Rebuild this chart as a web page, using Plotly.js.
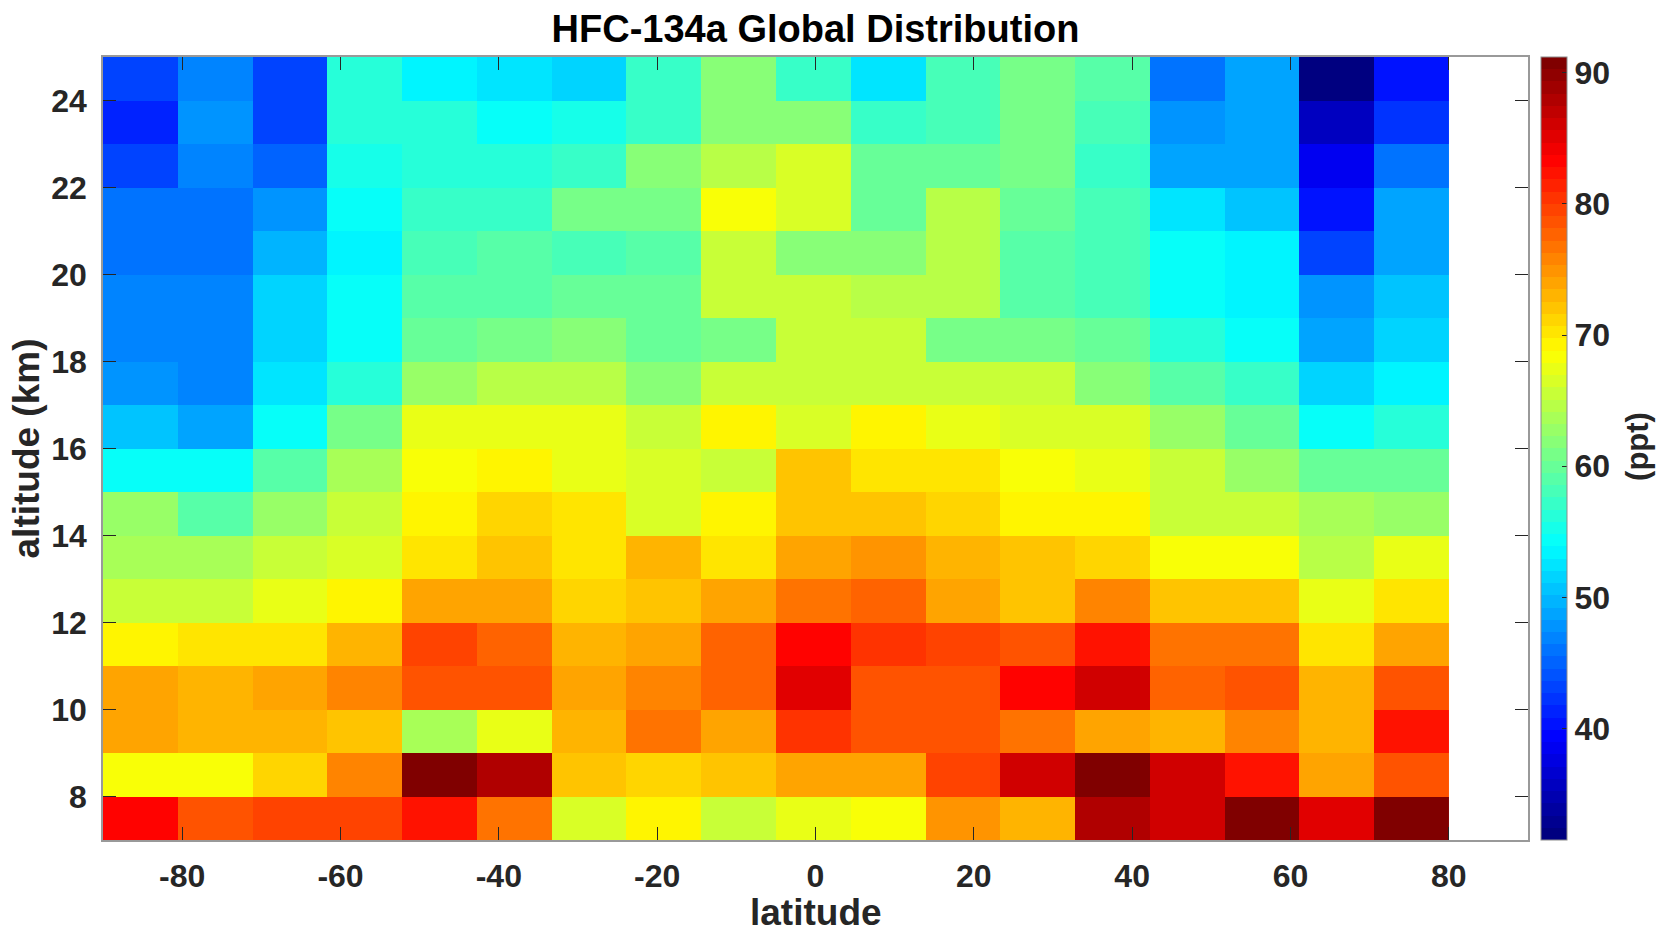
<!DOCTYPE html>
<html>
<head>
<meta charset="utf-8">
<script src="https://cdn.plot.ly/plotly-3.0.1.min.js"></script>
<style>
  html, body { margin: 0; padding: 0; background: #ffffff; }
  #chart { width: 1657px; height: 934px; }
</style>
</head>
<body>
<div id="chart"></div>
<script>
// Latitude bin centres (deg) and altitude bin centres (km)
const latitude = [-85.28, -75.83, -66.39, -56.94, -47.5, -38.06, -28.61, -19.17, -9.72,
                  -0.28, 9.17, 18.61, 28.06, 37.5, 46.94, 56.39, 65.83, 75.28];
const altitude = [7.5, 8.5, 9.5, 10.5, 11.5, 12.5, 13.5, 14.5, 15.5,
                  16.5, 17.5, 18.5, 19.5, 20.5, 21.5, 22.5, 23.5, 24.5];

// HFC-134a mixing ratio (ppt), one row per altitude (bottom to top)
const ppt_7_5  = [83.7, 79.0, 80.0, 80.0, 82.8, 77.1, 66.3, 69.1, 65.3, 67.0, 67.9, 74.6, 73.4, 88.4, 86.4, 91.0, 84.7, 91.0];
const ppt_8_5  = [67.9, 67.9, 70.9, 75.5, 91.0, 88.4, 71.8, 71.1, 71.8, 74.3, 74.3, 80.0, 85.8, 91.0, 86.4, 81.9, 73.7, 79.0];
const ppt_9_5  = [74.3, 73.0, 73.0, 71.8, 63.3, 67.0, 73.0, 76.4, 74.3, 80.9, 79.0, 79.0, 76.4, 73.7, 72.8, 75.5, 72.8, 81.9];
const ppt_10_5 = [73.7, 72.8, 73.7, 75.5, 79.0, 79.0, 73.7, 75.5, 78.1, 84.7, 79.0, 79.0, 83.7, 86.4, 78.1, 79.0, 72.8, 78.8];
const ppt_11_5 = [69.1, 69.9, 70.6, 72.8, 80.0, 78.1, 72.8, 74.3, 78.1, 83.7, 80.9, 80.0, 79.0, 81.9, 77.1, 77.1, 70.6, 73.7];
const ppt_12_5 = [65.3, 65.3, 67.0, 69.1, 73.7, 74.3, 70.9, 72.5, 73.7, 76.4, 78.1, 74.3, 72.5, 75.5, 72.0, 72.0, 67.0, 70.2];
const ppt_13_5 = [63.6, 63.3, 65.3, 66.8, 70.4, 71.8, 70.4, 73.0, 70.6, 73.7, 74.6, 73.0, 71.8, 70.9, 67.9, 67.9, 64.7, 67.0];
const ppt_14_5 = [62.3, 58.6, 62.3, 65.1, 69.1, 70.9, 70.2, 66.3, 69.1, 72.5, 71.8, 71.3, 69.1, 69.1, 65.9, 65.1, 63.3, 62.3];
const ppt_15_5 = [54.8, 53.9, 58.6, 63.3, 67.9, 69.1, 67.6, 66.3, 65.1, 72.2, 70.5, 70.6, 67.9, 67.0, 65.1, 62.3, 59.5, 59.5];
const ppt_16_5 = [50.2, 48.9, 54.8, 60.5, 67.0, 67.0, 67.0, 65.1, 69.1, 66.6, 69.1, 67.6, 66.6, 66.6, 62.8, 60.3, 54.8, 55.8];
const ppt_17_5 = [47.9, 46.9, 52.1, 55.8, 62.8, 64.4, 65.0, 62.1, 65.6, 65.6, 65.6, 65.6, 65.6, 62.1, 59.0, 56.7, 51.4, 53.2];
const ppt_18_5 = [46.9, 46.9, 51.1, 53.9, 60.3, 61.3, 61.8, 60.3, 61.3, 65.6, 65.6, 60.9, 61.3, 60.0, 55.8, 53.9, 48.9, 51.4];
const ppt_19_5 = [46.9, 46.9, 51.4, 53.9, 59.0, 59.0, 59.5, 60.0, 65.6, 65.6, 64.6, 64.4, 59.0, 58.1, 54.8, 53.2, 47.5, 50.2];
const ppt_20_5 = [45.5, 46.0, 50.0, 53.6, 58.4, 59.0, 58.1, 59.3, 65.6, 61.6, 62.0, 64.7, 59.0, 58.1, 53.9, 53.2, 43.2, 48.9];
const ppt_21_5 = [45.5, 46.4, 48.1, 54.8, 57.0, 57.0, 60.5, 61.3, 67.9, 66.8, 59.9, 64.4, 59.9, 58.1, 52.1, 50.9, 40.8, 48.9];
const ppt_22_5 = [43.5, 47.2, 44.8, 55.6, 55.8, 55.8, 57.5, 61.6, 64.4, 66.6, 59.9, 60.3, 61.0, 57.2, 49.2, 48.9, 38.1, 46.0];
const ppt_23_5 = [41.4, 48.1, 42.7, 55.8, 55.8, 54.8, 55.3, 57.5, 61.6, 61.8, 57.2, 57.7, 60.5, 58.1, 47.9, 48.9, 35.7, 41.8];
const ppt_24_5 = [43.5, 47.2, 43.0, 56.4, 53.5, 52.9, 51.4, 57.5, 62.1, 57.6, 52.9, 58.4, 60.5, 59.1, 46.4, 48.9, 32.0, 39.9];

const xTicks = [-80, -60, -40, -20, 0, 20, 40, 60, 80];
const yTicks = [8, 10, 12, 14, 16, 18, 20, 22, 24];
const cbTicks = [40, 50, 60, 70, 80, 90];

const zRows = [ppt_7_5, ppt_8_5, ppt_9_5, ppt_10_5, ppt_11_5, ppt_12_5, ppt_13_5, ppt_14_5, ppt_15_5,
               ppt_16_5, ppt_17_5, ppt_18_5, ppt_19_5, ppt_20_5, ppt_21_5, ppt_22_5, ppt_23_5, ppt_24_5];

// MATLAB-style jet(64) stepped colour scale
function jet64() {
  const n = 64, scale = [];
  const cl = v => Math.max(0, Math.min(1, v));
  for (let i = 0; i < n; i++) {
    const x = i / (n - 1);
    const r = cl(1.5 - Math.abs(4 * x - 3));
    const g = cl(1.5 - Math.abs(4 * x - 2));
    const b = cl(1.5 - Math.abs(4 * x - 1));
    const c = `rgb(${Math.round(r * 255)},${Math.round(g * 255)},${Math.round(b * 255)})`;
    scale.push([i / n, c]);
    scale.push([(i + 1) / n, c]);
  }
  return scale;
}

const font = 'Liberation Sans, Arial, sans-serif';
const tickCol = '#262626';

const trace = {
  type: 'heatmap',
  x: latitude,
  y: altitude,
  z: zRows,
  zmin: 31.5,
  zmax: 91.2,
  colorscale: jet64(),
  hoverongaps: false,
  colorbar: {
    x: 1.0091, xanchor: 'left', xpad: 0,
    y: 0.5, yanchor: 'middle', ypad: 0,
    len: 1, lenmode: 'fraction',
    thickness: 26, thicknessmode: 'pixels',
    outlinecolor: '#8c8c8c', outlinewidth: 1,
    tickvals: cbTicks, ticktext: cbTicks.map(String),
    ticks: 'inside', ticklen: 5, tickcolor: tickCol,
    ticklabelstandoff: 4,
    tickfont: { family: font, size: 32, color: tickCol, weight: 'bold' }
  }
};

const layout = {
  width: 1657, height: 934,
  paper_bgcolor: '#ffffff', plot_bgcolor: '#ffffff',
  margin: { l: 103, r: 129, t: 57, b: 94 },
  title: {
    text: 'HFC-134a Global Distribution',
    x: 0.5, xref: 'paper', xanchor: 'center',
    y: 1 - 28.5 / 934, yref: 'container', yanchor: 'middle',
    font: { family: font, size: 38, color: '#000000', weight: 'bold' }
  },
  xaxis: {
    range: [-90, 90],
    tickvals: xTicks, ticktext: xTicks.map(String),
    ticks: 'inside', ticklen: 13, tickcolor: tickCol, tickwidth: 1,
    showline: true, linecolor: '#999999', linewidth: 1.5, mirror: 'ticks',
    showgrid: false, zeroline: false,
    ticklabelstandoff: 7,
    tickfont: { family: font, size: 32, color: tickCol, weight: 'bold' }
  },
  yaxis: {
    range: [7, 25],
    tickvals: yTicks, ticktext: yTicks.map(String),
    ticks: 'inside', ticklen: 13, tickcolor: tickCol, tickwidth: 1,
    showline: true, linecolor: '#999999', linewidth: 1.5, mirror: 'ticks',
    showgrid: false, zeroline: false,
    ticklabelstandoff: 8,
    tickfont: { family: font, size: 32, color: tickCol, weight: 'bold' },
    title: { text: 'altitude (km)', standoff: 0,
             font: { family: font, size: 37, color: tickCol, weight: 'bold' } }
  },
  annotations: [{
    text: 'latitude',
    xref: 'paper', yref: 'paper', x: 0.5, y: -0.1195,
    xanchor: 'center', yanchor: 'bottom', showarrow: false, borderpad: 0,
    font: { family: font, size: 37, color: tickCol, weight: 'bold' }
  }, {
    text: '(ppt)', textangle: -90,
    xref: 'paper', yref: 'paper', x: 1.0772, y: 0.502,
    xanchor: 'center', yanchor: 'middle', showarrow: false,
    font: { family: font, size: 31, color: tickCol, weight: 'bold' }
  }]
};

Plotly.newPlot('chart', [trace], layout, { displayModeBar: false, responsive: false });
</script>
</body>
</html>
